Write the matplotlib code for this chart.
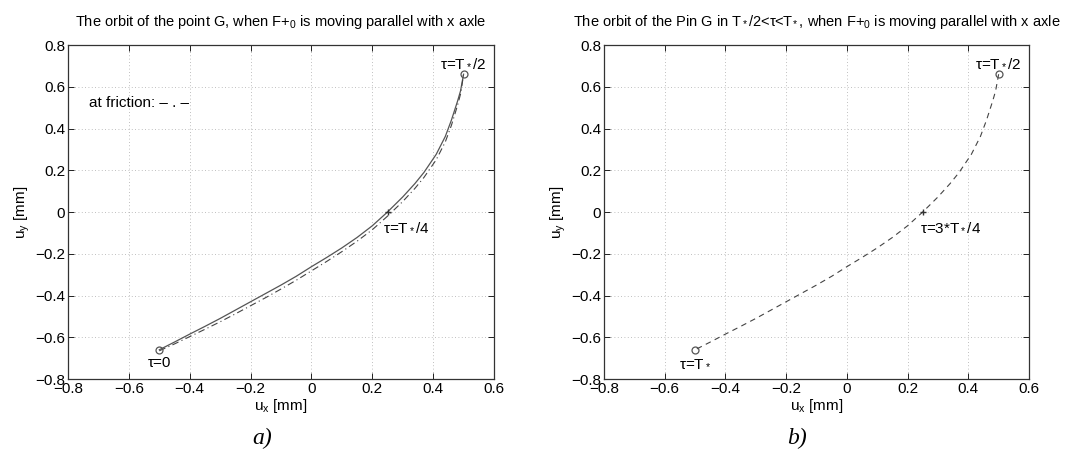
import matplotlib
matplotlib.use("Agg")
import matplotlib.pyplot as plt

plt.rcParams['font.family'] = ['Liberation Sans', 'DejaVu Sans']
plt.rcParams['mathtext.fontset'] = 'custom'
plt.rcParams['mathtext.rm'] = 'Liberation Sans'
plt.rcParams['mathtext.it'] = 'Liberation Sans'

# orbit without friction (solid), first half period
ux = [-0.5, -0.45, -0.4, -0.35, -0.3, -0.25, -0.2, -0.15, -0.1, -0.05, 0.0, 0.05, 0.1,
      0.15, 0.2, 0.25, 0.3, 0.34, 0.37, 0.41, 0.44, 0.46, 0.48, 0.49, 0.495, 0.5]
uy = [-0.66, -0.623, -0.585, -0.548, -0.51, -0.47, -0.43, -0.39, -0.35, -0.308, -0.262, -0.218, -0.172,
      -0.122, -0.066, 0.0, 0.072, 0.136, 0.19, 0.276, 0.362, 0.44, 0.53, 0.58, 0.62, 0.66]
# orbit at friction (dash-dot)
ux_fr = [-0.5, -0.45, -0.4, -0.35, -0.3, -0.25, -0.2, -0.15, -0.1, -0.05, 0.0, 0.05, 0.1,
         0.15, 0.2, 0.25, 0.3, 0.34, 0.37, 0.41, 0.44, 0.46, 0.48, 0.49, 0.495, 0.5]
uy_fr = [-0.665, -0.632, -0.597, -0.562, -0.526, -0.488, -0.449, -0.41, -0.369, -0.327, -0.282, -0.237, -0.19,
         -0.14, -0.085, -0.02, 0.05, 0.113, 0.166, 0.25, 0.336, 0.415, 0.51, 0.565, 0.61, 0.66]
# second half period (T*/2 .. T*)
ux2 = ux[::-1]
uy2 = uy[::-1]

ticks_x = [-0.8, -0.6, -0.4, -0.2, 0, 0.2, 0.4, 0.6]
ticks_y = [-0.8, -0.6, -0.4, -0.2, 0, 0.2, 0.4, 0.6, 0.8]

fig = plt.figure(figsize=(10.71, 4.57), dpi=100)
W, H = 1071, 457
ax1 = fig.add_axes([68 / W, 1 - 379 / H, 426 / W, 334 / H])
ax2 = fig.add_axes([604 / W, 1 - 379 / H, 425 / W, 334 / H])

def style(ax):
    ax.set_xlim(-0.8, 0.6)
    ax.set_ylim(-0.8, 0.8)
    ax.set_xticks(ticks_x)
    ax.set_yticks(ticks_y)
    ax.set_xticklabels(['\u22120.8', '\u22120.6', '\u22120.4', '\u22120.2', '0', '0.2', '0.4', '0.6'])
    ax.set_yticklabels(['\u22120.8', '\u22120.6', '\u22120.4', '\u22120.2', '0', '0.2', '0.4', '0.6', '0.8'])
    ax.tick_params(direction='in', labelsize=11, length=4, width=0.6, pad=2,
                   top=True, right=True)
    ax.grid(True, linestyle=(0, (1, 3)), color='#aaaaaa', linewidth=0.6)
    for s in ax.spines.values():
        s.set_linewidth(0.9)
        s.set_color('#333333')
    ax.set_xlabel('u$_x$ [mm]', fontsize=11, labelpad=1)
    ax.set_ylabel('u$_y$ [mm]', fontsize=11, labelpad=2)

style(ax1)
style(ax2)

ax1.plot(ux, uy, color='#555555', linewidth=0.9)
ax1.plot(ux_fr, uy_fr, color='#444444', linewidth=0.8, linestyle=(0, (6, 3, 1, 3)))
ax1.plot([ux[0], ux[-1]], [uy[0], uy[-1]], linestyle='None', marker='o', markersize=5,
         markerfacecolor='none', markeredgecolor='#555555', markeredgewidth=0.9)
ax1.plot([ux[15]], [uy[15]], linestyle='None', marker='+', markersize=4, color='#333333')
ax1.text(0.5, 0.68, '\u03c4=T$_*$/2', fontsize=11, ha='center', va='bottom')
ax1.text(0.235, -0.04, '\u03c4=T$_*$/4', fontsize=11, ha='left', va='top')
ax1.text(-0.5, -0.69, '\u03c4=0', fontsize=11, ha='center', va='top')
ax1.text(-0.73, 0.52, 'at friction: \u2013 . \u2013', fontsize=11, ha='left', va='center')
ax1.set_title('The orbit of the point G, when F+$_0$ is moving parallel with x axle',
              fontsize=10.5, pad=14)

ax2.plot(ux2, uy2, color='#444444', linewidth=0.8, linestyle=(0, (5, 4)))
ax2.plot([ux2[0], ux2[-1]], [uy2[0], uy2[-1]], linestyle='None', marker='o', markersize=5,
         markerfacecolor='none', markeredgecolor='#555555', markeredgewidth=0.9)
ax2.plot([ux2[10]], [uy2[10]], linestyle='None', marker='+', markersize=4, color='#333333')
ax2.text(0.5, 0.68, '\u03c4=T$_*$/2', fontsize=11, ha='center', va='bottom')
ax2.text(0.24, -0.04, '\u03c4=3*T$_*$/4', fontsize=11, ha='left', va='top')
ax2.text(-0.5, -0.69, '\u03c4=T$_*$', fontsize=11, ha='center', va='top')
ax2.set_title('The orbit of the Pin G in T$_*$/2<\u03c4<T$_*$, when F+$_0$ is moving parallel with x axle',
              fontsize=10.5, pad=14)

fig.text(262 / W, 1 - 438 / H, 'a)', fontsize=17, style='italic',
         family='Liberation Serif', ha='center', va='center')
fig.text(797 / W, 1 - 438 / H, 'b)', fontsize=17, style='italic',
         family='Liberation Serif', ha='center', va='center')

fig.savefig('out.png', dpi=100, facecolor='white')
